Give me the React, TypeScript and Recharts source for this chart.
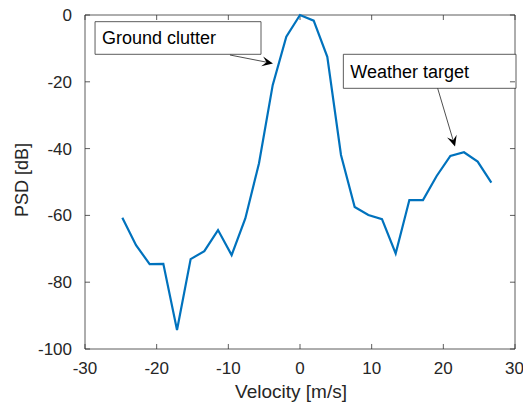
import { LineChart, Line, XAxis, YAxis, ReferenceArea, ReferenceLine } from "recharts"

// Doppler spectrum samples
const velocity = [
  -24.79, -22.88, -20.98, -19.07, -17.16, -15.26, -13.35, -11.44, -9.54, -7.63,
  -5.72, -3.81, -1.91, 0, 1.91, 3.81, 5.72, 7.63, 9.54, 11.44,
  13.35, 15.26, 17.16, 19.07, 20.98, 22.88, 24.79, 26.7,
]
const psd = [
  -60.7, -68.9, -74.6, -74.5, -94.3, -73.1, -70.7, -64.4, -71.9, -60.9,
  -44.4, -21.0, -6.5, 0, -1.7, -12.5, -41.9, -57.5, -59.9, -61.1,
  -71.4, -55.4, -55.4, -48.2, -42.2, -41.1, -43.9, -50.2,
]

const xTicks = [-30, -20, -10, 0, 10, 20, 30]
const yTicks = [-100, -80, -60, -40, -20, 0]

// annotation boxes [x1, x2, y1, y2] and arrows [tailX, tailY, tipX, tipY], in data units
const notes = [
  { text: "Ground clutter", box: [-28.6, -5.44, -2.0, -11.77], arrow: [-9.77, -11.98, -3.77, -14.5] },
  { text: "Weather target", box: [6.05, 30.14, -11.77, -21.95], arrow: [19.21, -21.95, 21.63, -39.4] },
]

const data = velocity.map((v, i) => ({ v, psd: psd[i] }))

const font = "'Liberation Sans', Arial, Helvetica, sans-serif"
const axisColor = "#333"
const textColor = "#262626"

const xMin = xTicks[0]
const xMax = xTicks[xTicks.length - 1]
const yMin = yTicks[0]
const yMax = yTicks[yTicks.length - 1]
// inward tick length (about 5px) in data units
const tickDx = (xMax - xMin) * 0.0117
const tickDy = (yMax - yMin) * 0.015

type P = { x: number; y: number }
const tickSegments: P[][] = [
  ...xTicks.flatMap((t) => [
    [{ x: t, y: yMin }, { x: t, y: yMin + tickDy }],
    [{ x: t, y: yMax }, { x: t, y: yMax - tickDy }],
  ]),
  ...yTicks.flatMap((t) => [
    [{ x: xMin, y: t }, { x: xMin + tickDx, y: t }],
    [{ x: xMax, y: t }, { x: xMax - tickDx, y: t }],
  ]),
]

function Seg(props: any) {
  const { x1, y1, x2, y2 } = props
  return <line x1={x1} y1={y1} x2={x2} y2={y2} stroke={axisColor} strokeWidth={0.8} />
}

function Arrow(props: any) {
  const { x1, y1, x2, y2 } = props
  const dx = x2 - x1
  const dy = y2 - y1
  const len = Math.sqrt(dx * dx + dy * dy) || 1
  const ux = dx / len
  const uy = dy / len
  const px = -uy
  const py = ux
  const head = 11
  const half = 5
  const bx = x2 - ux * head
  const by = y2 - uy * head
  const nx = x2 - ux * head * 0.6
  const ny = y2 - uy * head * 0.6
  const pts = [
    [x2, y2],
    [bx + px * half, by + py * half],
    [nx, ny],
    [bx - px * half, by - py * half],
  ]
  return (
    <g>
      <line x1={x1} y1={y1} x2={nx} y2={ny} stroke="#222" strokeWidth={0.8} />
      <polygon points={pts.map((p) => p.join(",")).join(" ")} fill="#000" />
    </g>
  )
}

export default function App() {
  return (
    <div style={{ position: "absolute", left: 0, top: 0, fontFamily: font }}>
      <LineChart width={523} height={406} data={data} margin={{ top: 15, right: 8, bottom: 7, left: 25 }}>
        <XAxis
          dataKey="v"
          type="number"
          domain={[xMin, xMax]}
          ticks={xTicks}
          height={50}
          tickSize={-5}
          tickMargin={18}
          axisLine={false}
          tickLine={false}
          tick={{ fill: textColor, fontSize: 17, fontFamily: font }}
          label={{ value: "Velocity [m/s]", position: "insideBottom", offset: 1, dx: -9, fill: textColor, fontSize: 19, fontFamily: font }}
        />
        <YAxis
          type="number"
          domain={[yMin, yMax]}
          ticks={yTicks}
          width={60}
          tickSize={-5}
          tickMargin={18}
          axisLine={false}
          tickLine={false}
          tick={{ fill: textColor, fontSize: 17, fontFamily: font }}
          label={{ value: "PSD [dB]", position: "center", angle: -90, dx: -33, dy: -2, fill: textColor, fontSize: 18, fontFamily: font }}
        />
        {/* axes box, styled like the annotation boxes that do render */}
        <ReferenceArea
          x1={xMin}
          x2={xMax}
          y1={yMin}
          y2={yMax}
          ifOverflow="visible"
          fill="#fff"
          fillOpacity={0}
          stroke={axisColor}
          strokeWidth={0.8}
        />
        {tickSegments.map((s, i) => (
          <ReferenceLine key={"tk" + i} segment={s} ifOverflow="visible" shape={Seg} />
        ))}
        <Line type="linear" dataKey="psd" stroke="#0072BD" strokeWidth={2.2} dot={false} isAnimationActive={false} />
        {notes.map((n) => (
          <ReferenceArea
            key={n.text}
            x1={n.box[0]}
            x2={n.box[1]}
            y1={n.box[2]}
            y2={n.box[3]}
            ifOverflow="visible"
            fill="#fff"
            fillOpacity={1}
            stroke="#333"
            strokeWidth={0.8}
            label={{ value: n.text, position: "insideLeft", offset: 7, fill: "#000", fontSize: 18, fontFamily: font }}
          />
        ))}
        {notes.map((n) => (
          <ReferenceLine
            key={n.text + "-arrow"}
            segment={[
              { x: n.arrow[0], y: n.arrow[1] },
              { x: n.arrow[2], y: n.arrow[3] },
            ]}
            ifOverflow="visible"
            shape={Arrow}
          />
        ))}
      </LineChart>
    </div>
  )
}
